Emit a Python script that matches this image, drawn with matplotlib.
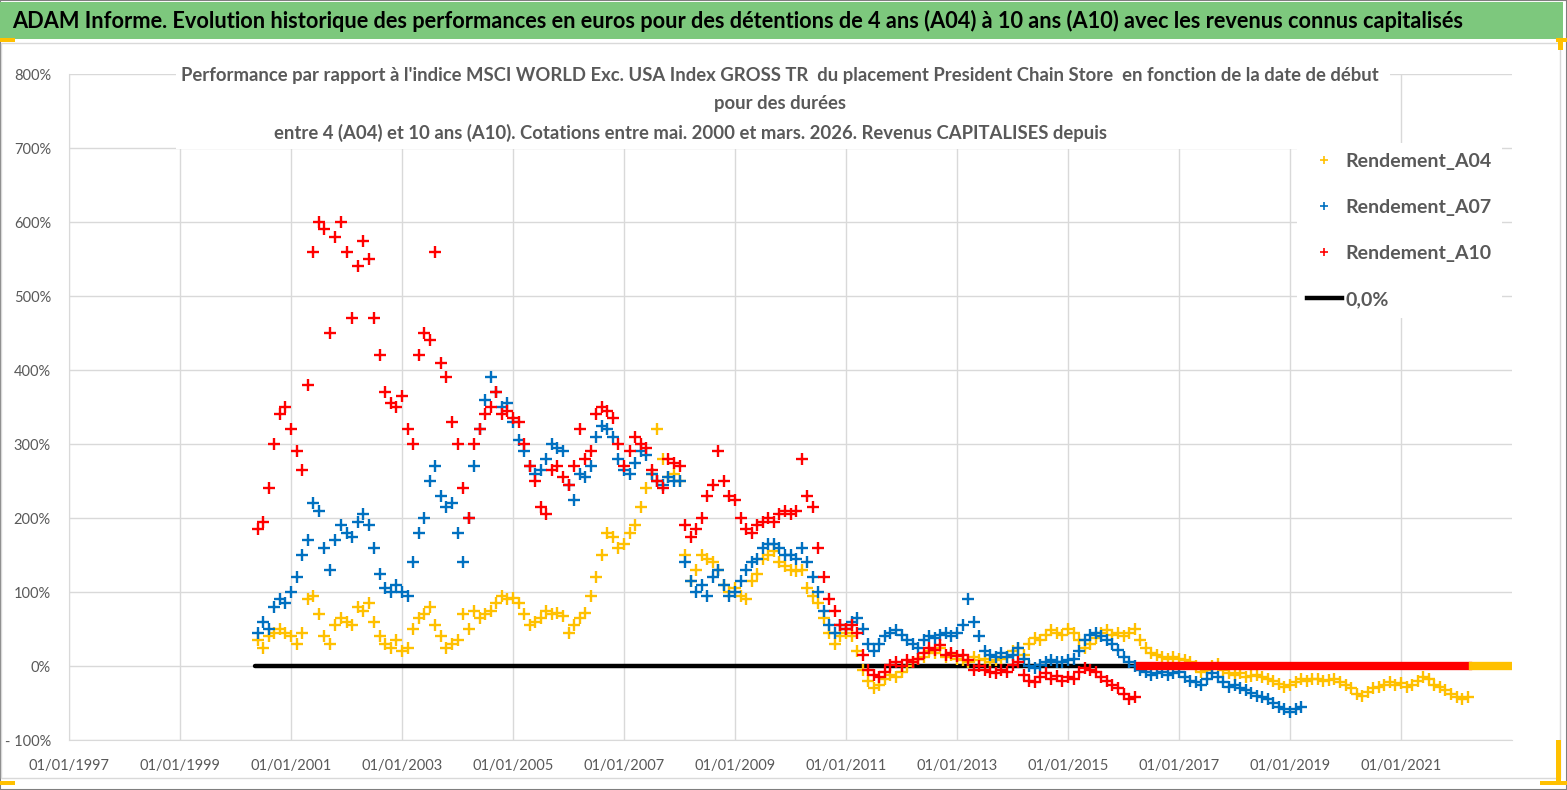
import numpy as np
import matplotlib.pyplot as plt
from matplotlib.patches import Rectangle
from matplotlib.lines import Line2D

plt.rcParams['font.family'] = ['Lato', 'DejaVu Sans']

W, H = 1567, 790

# date de debut des detentions : un point tous les 0,1 an a partir de mai 2000
START = 2000.4
STEP = 0.1

# Rendement_A10 (%), de 2000.4 a 2016.2
a10 = [185, 195, 240, 300, 340, 350, 320, 290, 265, 380,
       560, 600, 590, 450, 580, 600, 560, 470, 540, 575,
       550, 470, 420, 370, 355, 350, 365, 320, 300, 420,
       450, 440, 560, 410, 390, 330, 300, 240, 200, 300,
       320, 340, 350, 370, 340, 345, 335, 330, 300, 270,
       250, 215, 205, 265, 270, 255, 245, 270, 320, 280,
       290, 340, 350, 345, 335, 300, 270, 290, 310, 300,
       295, 265, 250, 240, 280, 275, 270, 190, 175, 185,
       200, 230, 245, 290, 250, 230, 225, 200, 185, 180,
       190, 195, 200, 195, 205, 210, 205, 210, 280, 230,
       215, 160, 120, 90, 75, 55, 50, 55, 45, 15,
       -5, -12, -15, -8, 2, 5, 0, 8, 5, 10,
       18, 25, 22, 28, 15, 18, 13, 15, 8, -5,
       0, -5, -8, -10, -5, -8, 2, 5, -12, -20,
       -22, -15, -10, -18, -14, -20, -15, -18, -8, -3,
       -5, -8, -15, -20, -25, -30, -38, -45, -42]

# Rendement_A07 (%), de 2000.4 a 2019.2
a07 = [45, 60, 50, 80, 90, 85, 100, 120, 150, 170,
       220, 210, 160, 130, 170, 190, 180, 175, 195, 205,
       190, 160, 125, 105, 100, 110, 100, 95, 140, 180,
       200, 250, 270, 230, 215, 220, 180, 140, 200, 270,
       320, 360, 390, 370, 350, 355, 330, 305, 290, 270,
       260, 265, 280, 300, 295, 290, 245, 225, 260, 255,
       270, 310, 325, 320, 310, 280, 265, 260, 275, 290,
       285, 260, 250, 245, 255, 250, 250, 140, 115, 100,
       110, 95, 120, 130, 110, 95, 100, 115, 130, 140,
       145, 160, 165, 165, 160, 150, 150, 145, 160, 140,
       120, 100, 75, 55, 45, 55, 50, 60, 65, 50,
       30, 20, 30, 40, 45, 48, 42, 35, 30, 25,
       35, 40, 38, 42, 45, 40, 45, 55, 90, 60,
       40, 20, 15, 12, 18, 12, 15, 25, 10, 0,
       -3, 2, 5, 8, 5, 6, 8, 10, 20, 35,
       42, 45, 40, 35, 30, 22, 12, 5, 0, -5,
       -8, -12, -10, -8, -12, -10, -8, -15, -20, -22,
       -25, -18, -10, -15, -22, -28, -25, -30, -33, -36,
       -40, -42, -45, -50, -55, -58, -62, -58, -55]

# Rendement_A04 (%), de 2000.4 a 2022.2
a04 = [35, 25, 40, 45, 50, 45, 40, 30, 45, 90,
       95, 70, 40, 30, 55, 65, 60, 55, 80, 75,
       85, 60, 40, 30, 25, 35, 20, 25, 50, 65,
       70, 80, 55, 40, 25, 30, 35, 70, 50, 75,
       65, 70, 75, 85, 95, 90, 92, 85, 70, 55,
       60, 65, 75, 70, 72, 68, 45, 55, 65, 72,
       95, 120, 150, 180, 175, 160, 165, 180, 190, 215,
       240, 260, 320, 280, 255, 260, 250, 150, 115, 130,
       150, 145, 140, 130, 110, 100, 105, 95, 90, 115,
       125, 145, 150, 155, 140, 135, 130, 128, 130, 105,
       95, 85, 65, 45, 30, 40, 45, 40, 20, -5,
       -20, -30, -25, -18, -12, -15, -8, 0, 5, 10,
       12, 20, 18, 25, 12, 15, 10, 8, 5, 12,
       8, 10, 5, 8, 10, 12, 20, 25, 15, 30,
       38, 35, 42, 48, 45, 42, 50, 45, 35, 25,
       30, 38, 45, 48, 42, 45, 40, 45, 50, 35,
       25, 18, 15, 12, 10, 12, 10, 8, 5, 0,
       -8, -5, 0, 3, -5, -10, -12, -10, -15, -14,
       -12, -15, -18, -20, -24, -28, -26, -22, -18, -20,
       -17, -18, -20, -19, -18, -22, -25, -30, -38, -40,
       -35, -30, -28, -25, -22, -25, -23, -28, -25, -20,
       -15, -18, -25, -28, -32, -38, -42, -45, -42]

# periodes ou la serie vaut 0 (pas encore de recul suffisant)
a10_zero = [2016.3, 2022.2]
a04_zero = [2022.3, 2023.0]
ref_line = [2000.35, 2023.0]

YEARS = list(range(1997, 2022, 2))
YTICKS = list(range(-100, 801, 100))

C04, C07, C10 = '#FFC000', '#0070C0', '#FF0000'
GREY = '#595959'


def dates(vals):
    return START + STEP * np.arange(len(vals))


fig = plt.figure(figsize=(W / 100, H / 100), dpi=100)

# cadre, bandeau vert
fig.add_artist(Rectangle((0, 0), 1, 1, transform=fig.transFigure,
                         fc='white', ec='#7f7f7f', lw=1.5, zorder=-5))
fig.add_artist(Rectangle((1 / W, 1 - 778 / H), 1559 / W, 735 / H, transform=fig.transFigure,
                         fc='white', ec='#d9d9d9', lw=1, zorder=-4))
fig.add_artist(Rectangle((0, 1 - 39 / H), 1563 / W, 37 / H, transform=fig.transFigure,
                         fc='#7DC87D', ec='none', zorder=-3))
for x0, y0, w, h in [(0, 38, 15, 4), (1556, 38, 11, 4), (1558, 38, 5, 12),
                     (0, 781, 15, 4), (1556, 740, 5, 45), (1540, 781, 27, 4)]:
    fig.add_artist(Rectangle((x0 / W, 1 - (y0 + h) / H), w / W, h / H,
                             transform=fig.transFigure, fc='#FFC000', ec='none', zorder=5))

fig.text(12 / W, 1 - 21 / H,
         "ADAM Informe. Evolution historique des performances en euros pour des détentions "
         "de 4 ans (A04) à 10 ans (A10) avec les revenus connus capitalisés",
         fontsize=15.65, fontweight='bold', color='black', va='center', ha='left')

ax = fig.add_axes([69 / W, 1 - 740 / H, (1512 - 69) / W, (740 - 74) / H])

ax.plot(ref_line, [0, 0], color='black', lw=3.2, zorder=2, solid_capstyle='round')
mk = dict(marker='+', ls='none', markersize=8, mew=1.7)
ax.plot(dates(a04), a04, color=C04, zorder=3, **mk)
ax.plot(dates(a07), a07, color=C07, zorder=4, **mk)
ax.plot(dates(a10), a10, color=C10, zorder=5, **mk)
ax.plot(a10_zero, [0, 0], color=C10, lw=6, zorder=5)
ax.plot(a04_zero, [0, 0], color=C04, lw=6, zorder=6)

ax.set_xlim(1997, 2023)
ax.set_ylim(-100, 800)
ax.set_xticks(YEARS)
ax.set_xticklabels(['01/01/%d' % y for y in YEARS])
ax.set_yticks(YTICKS)
ax.set_yticklabels(['- 100%' if v < 0 else '%d%%' % v for v in YTICKS])
ax.tick_params(axis='x', length=0, pad=14, labelsize=10.5, labelcolor=GREY)
ax.tick_params(axis='y', length=0, pad=13, labelsize=10.5, labelcolor=GREY)
ax.grid(color='#d9d9d9', lw=1)
ax.set_axisbelow(True)
for s in ['top', 'right']:
    ax.spines[s].set_visible(False)
for s in ['left', 'bottom']:
    ax.spines[s].set_color('#d9d9d9')

# titre du graphique sur fond blanc
fig.add_artist(Rectangle((176 / W, 1 - 149 / H), (1390 - 176) / W, 85 / H,
                         transform=fig.transFigure, fc='white', ec='none', zorder=1))
sub = dict(fontsize=13.3, fontweight='bold', color=GREY, ha='center', va='center', zorder=2)
fig.text(780 / W, 1 - 75 / H,
         "Performance par rapport à l'indice MSCI WORLD Exc. USA Index GROSS TR  du placement "
         "President Chain Store  en fonction de la date de début", **sub)
fig.text(780 / W, 1 - 103 / H, "pour des durées", **sub)
fig.text(690 / W, 1 - 133 / H,
         "entre 4 (A04) et 10 ans (A10). Cotations entre mai. 2000 et mars. 2026. "
         "Revenus CAPITALISES depuis", **sub)

handles = [Line2D([], [], color=C04, marker='+', ls='none', markersize=6, mew=1.2),
           Line2D([], [], color=C07, marker='+', ls='none', markersize=6, mew=1.2),
           Line2D([], [], color=C10, marker='+', ls='none', markersize=6, mew=1.2),
           Line2D([], [], color='black', lw=3.2)]
leg = fig.legend(handles, ['Rendement_A04', 'Rendement_A07', 'Rendement_A10', '0,0%'],
                 loc='upper left', bbox_to_anchor=(1297 / W, 1 - 143 / H),
                 borderaxespad=0, borderpad=0.5,
                 handlelength=1.8, handletextpad=0.2, labelspacing=1.5,
                 prop=dict(size=14, weight='bold'), labelcolor=GREY,
                 frameon=True, fancybox=False, framealpha=1, edgecolor='none')
leg.set_zorder(10)

fig.savefig('out.png', dpi=100)
